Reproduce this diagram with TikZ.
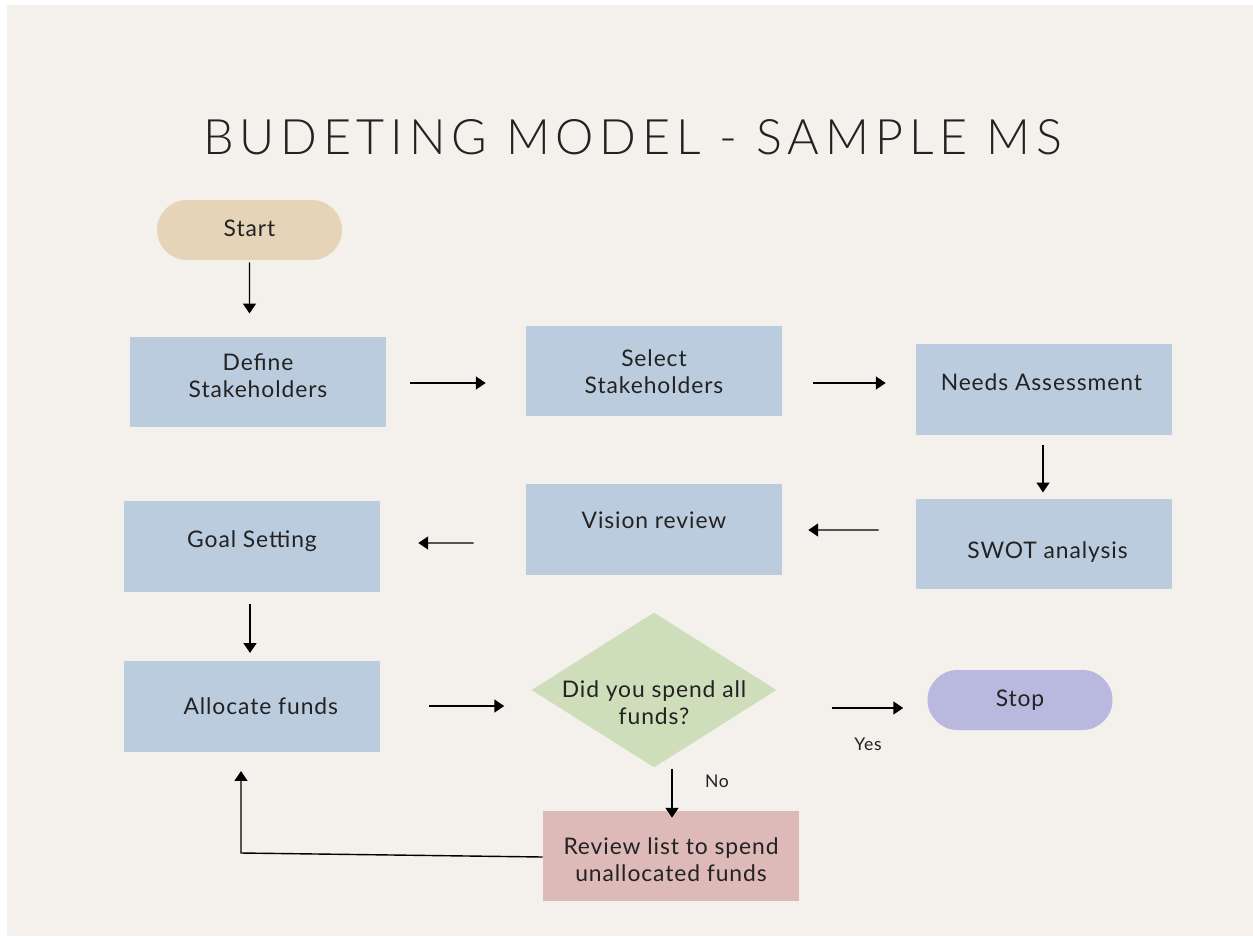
\documentclass[tikz,border=0pt]{standalone}
\usepackage{fontspec}
\usetikzlibrary{calc,arrows.meta,shapes.geometric}
\setmainfont{Lato}[LetterSpace=4]
\newfontfamily\titlefont{Lato}[UprightFont=* Light,LetterSpace=12]
\definecolor{paper}{HTML}{F4F1EC}
\definecolor{sand}{HTML}{E6D4B8}
\definecolor{steel}{HTML}{BCCCDF}
\definecolor{sage}{HTML}{CEDDBA}
\definecolor{lilac}{HTML}{B9B9DF}
\definecolor{rose}{HTML}{DDB9B8}
\definecolor{ink}{HTML}{222222}
\newcommand{\twolines}[2]{\begin{tabular}{@{}c@{}}#1\\#2\end{tabular}}
% move text up or down inside its box without changing the box size
\newcommand{\lift}[2]{\raisebox{#1}[\height][\depth]{#2}}
\begin{document}
\begin{tikzpicture}[x=0.02cm,y=-0.02cm,
  every node/.style={text=ink,font=\fontsize{13}{15.4}\selectfont},
  proc/.style={fill=steel,minimum width=5.12cm,minimum height=1.81cm,inner sep=0},
  pill/.style={minimum width=3.7cm,minimum height=1.2cm,rounded corners=0.6cm,inner sep=0},
  arr/.style={-{Triangle[length=5.6pt,width=7.4pt]},line width=0.8pt,draw=black},
  tag/.style={font=\fontsize{10}{12}\selectfont}]
% page and panel
\fill[white] (0,0) rectangle (1253,936);
\fill[paper] (7,5) rectangle (1253,936);
\useasboundingbox (0,0) rectangle (1253,936);
% heading
\node (title) at (632.5,137.5) {\resizebox{17.18cm}{0.70cm}{\titlefont BUDETING MODEL - SAMPLE MS}};
% steps
\node[pill,fill=sand] (start) at (249.5,230) {\lift{1.1pt}{Start}};
\node[proc] (def) at (258,382) {\lift{1.7pt}{\twolines{Define}{Stakeholders}}};
\node[proc] (sel) at (654,371) {\lift{-2.3pt}{\twolines{Select}{Stakeholders}}};
\node[proc] (needs) at (1044,389.5) {\lift{3.9pt}{\hspace*{-3pt}Needs Assessment}};
\node[proc] (swot) at (1044,544) {\lift{-4.6pt}{\hspace*{4pt}SWOT analysis}};
\node[proc] (vis) at (654,529.5) {\lift{5.1pt}{Vision review}};
\node[proc] (goal) at (252,546.5) {\lift{2.8pt}{Goal Setting}};
\node[proc] (alloc) at (252,706.5) {\hspace*{10pt}Allocate funds};
\node[diamond,fill=sage,minimum width=4.9cm,minimum height=3.1cm,inner sep=0,
  label={[align=center,yshift=-9.1pt]center:{\twolines{Did you spend all}{funds?}}}] (dec) at (654,690) {};
\node[pill,fill=lilac] (stop) at (1020,700) {Stop};
\node[fill=rose,minimum width=5.12cm,minimum height=1.8cm,inner sep=0] (rev) at (671,856)
  {\lift{-4pt}{\twolines{Review list to spend}{unallocated funds}}};
% branch labels
\node[tag] (yes) at (868,744) {Yes};
\node[tag] (no) at (717,781) {No};
% connectors
\draw[arr] ($(start.south)+(0,2)$) -- ($(def.north)+(-8.5,-23)$);
\draw[arr] ($(def.east)+(24,1)$) -- ($(sel.west)+(-40,12)$);
\draw[arr] ($(sel.east)+(31,12)$) -- ($(needs.west)+(-30,-6.5)$);
\draw[arr] ($(needs.south)+(-1,10)$) -- ($(swot.north)+(-1,-6)$);
\draw[arr] ($(swot.west)+(-37,-14)$) -- ($(vis.east)+(26,0.5)$);
\draw[arr] ($(vis.west)+(-52,13.5)$) -- ($(goal.east)+(38,-3.5)$);
\draw[arr] ($(goal.south)+(-2,12)$) -- ($(alloc.north)+(-2,-8)$);
\draw[arr] ($(alloc.east)+(49,-0.5)$) -- ($(dec.west)+(-27,16)$);
\draw[arr] ($(dec.east)+(55,18)$) -- ($(stop.west)+(-24,8)$);
\draw[arr] ($(dec.south)+(18,1)$) -- ($(rev.north)+(1,7)$);
\coordinate (loop) at (241,853);
\draw[arr] ($(rev.west)+(0,1)$) -- (loop) -- ($(alloc.south)+(-11,19)$);
\end{tikzpicture}
\end{document}
